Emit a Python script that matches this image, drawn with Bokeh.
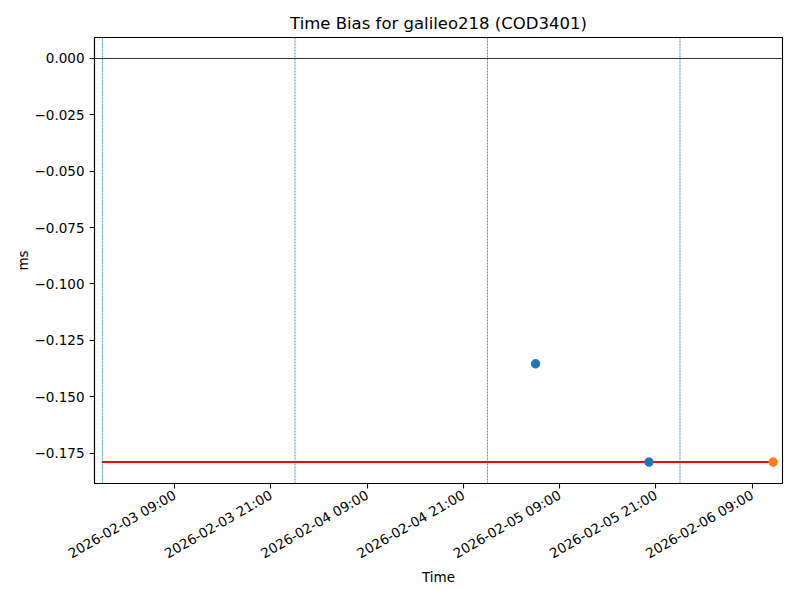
from datetime import datetime
from bokeh.plotting import figure
from bokeh.models import Range1d, FixedTicker, DatetimeTickFormatter, CustomJSTickFormatter, Span
from bokeh.embed import file_html
from bokeh.resources import INLINE
import math

# ---- data ----
blue_times = [datetime(2026, 2, 5, 6, 0), datetime(2026, 2, 5, 20, 8)]
blue_values = [-0.1354, -0.1790]
orange_times = [datetime(2026, 2, 6, 11, 37)]
orange_values = [-0.1790]
ref_times = [datetime(2026, 2, 2, 23, 54), datetime(2026, 2, 6, 11, 37)]
ref_values = [-0.1790, -0.1790]
day_lines = [datetime(2026, 2, 3), datetime(2026, 2, 4), datetime(2026, 2, 5), datetime(2026, 2, 6)]
zero_level = 0.0
x_ticks = [datetime(2026, 2, 3, 9), datetime(2026, 2, 3, 21), datetime(2026, 2, 4, 9),
           datetime(2026, 2, 4, 21), datetime(2026, 2, 5, 9), datetime(2026, 2, 5, 21),
           datetime(2026, 2, 6, 9)]
y_ticks = [0.0, -0.025, -0.05, -0.075, -0.1, -0.125, -0.15, -0.175]
x_start = datetime(2026, 2, 2, 23, 0)
x_end = datetime(2026, 2, 6, 12, 47)
y_start, y_end = -0.1885, 0.0093

EPOCH = datetime(1970, 1, 1)
def ms(d):
    return (d - EPOCH).total_seconds() * 1000.0

FONT = "DejaVu Sans"

p = figure(width=784, height=588, output_backend="svg", toolbar_location=None,
           x_axis_type="datetime",
           x_range=Range1d(ms(x_start), ms(x_end)),
           y_range=Range1d(y_start, y_end),
           min_border_left=94, min_border_right=2, min_border_top=37, min_border_bottom=101)

p.title.text = "Time Bias for galileo218 (COD3401)"
p.title.align = "center"
p.title.text_font = FONT
p.title.text_font_size = "16.5px"
p.title.text_font_style = "normal"
p.title.text_color = "black"

p.grid.visible = False
p.outline_line_color = "black"
p.outline_line_width = 1.1
p.background_fill_color = "white"
p.border_fill_color = "white"

for ax in (p.xaxis[0], p.yaxis[0]):
    ax.axis_line_color = "black"
    ax.axis_line_width = 1.1
    ax.major_tick_out = 5
    ax.major_tick_in = 0
    ax.major_tick_line_width = 1.1
    ax.minor_tick_out = 0
    ax.minor_tick_in = 0
    ax.major_label_text_font = FONT
    ax.major_label_text_font_size = "13.5px"
    ax.major_label_text_color = "black"
    ax.axis_label_text_font = FONT
    ax.axis_label_text_font_size = "13.5px"
    ax.axis_label_text_font_style = "normal"
    ax.axis_label_text_color = "black"

p.xaxis.ticker = FixedTicker(ticks=[ms(t) for t in x_ticks])
p.xaxis.formatter = DatetimeTickFormatter(hours="%Y-%m-%d %H:%M", days="%Y-%m-%d %H:%M",
                                          hourmin="%Y-%m-%d %H:%M", minutes="%Y-%m-%d %H:%M")
p.xaxis.major_label_orientation = math.pi / 6
p.xaxis.axis_label = "Time"
p.xaxis.axis_label_standoff = -2

p.yaxis.ticker = FixedTicker(ticks=y_ticks)
p.yaxis.formatter = CustomJSTickFormatter(code="""
    if (Math.abs(tick) < 1e-12) { return "0.000"; }
    return (tick < 0 ? "\u2212" : "") + Math.abs(tick).toFixed(3);
""")
p.yaxis.axis_label = "ms"
p.yaxis.axis_label_standoff = 1

# zero line
p.add_layout(Span(location=zero_level, dimension="width", line_color="black", line_width=0.8))

# day separators
for d in day_lines:
    p.add_layout(Span(location=ms(d), dimension="height", line_color="#1f77b4",
                      line_width=0.8, line_dash="2 1"))

# reference line
p.line(x=[ms(t) for t in ref_times], y=ref_values, line_color="red", line_width=2)

p.scatter(x=[ms(t) for t in blue_times], y=blue_values, size=8.5,
          fill_color="#1f77b4", line_color="#1f77b4")
p.scatter(x=[ms(t) for t in orange_times], y=orange_values, size=8.5,
          fill_color="#ff7f0e", line_color="#ff7f0e")

open("out.html", "w").write(file_html(p, INLINE))
